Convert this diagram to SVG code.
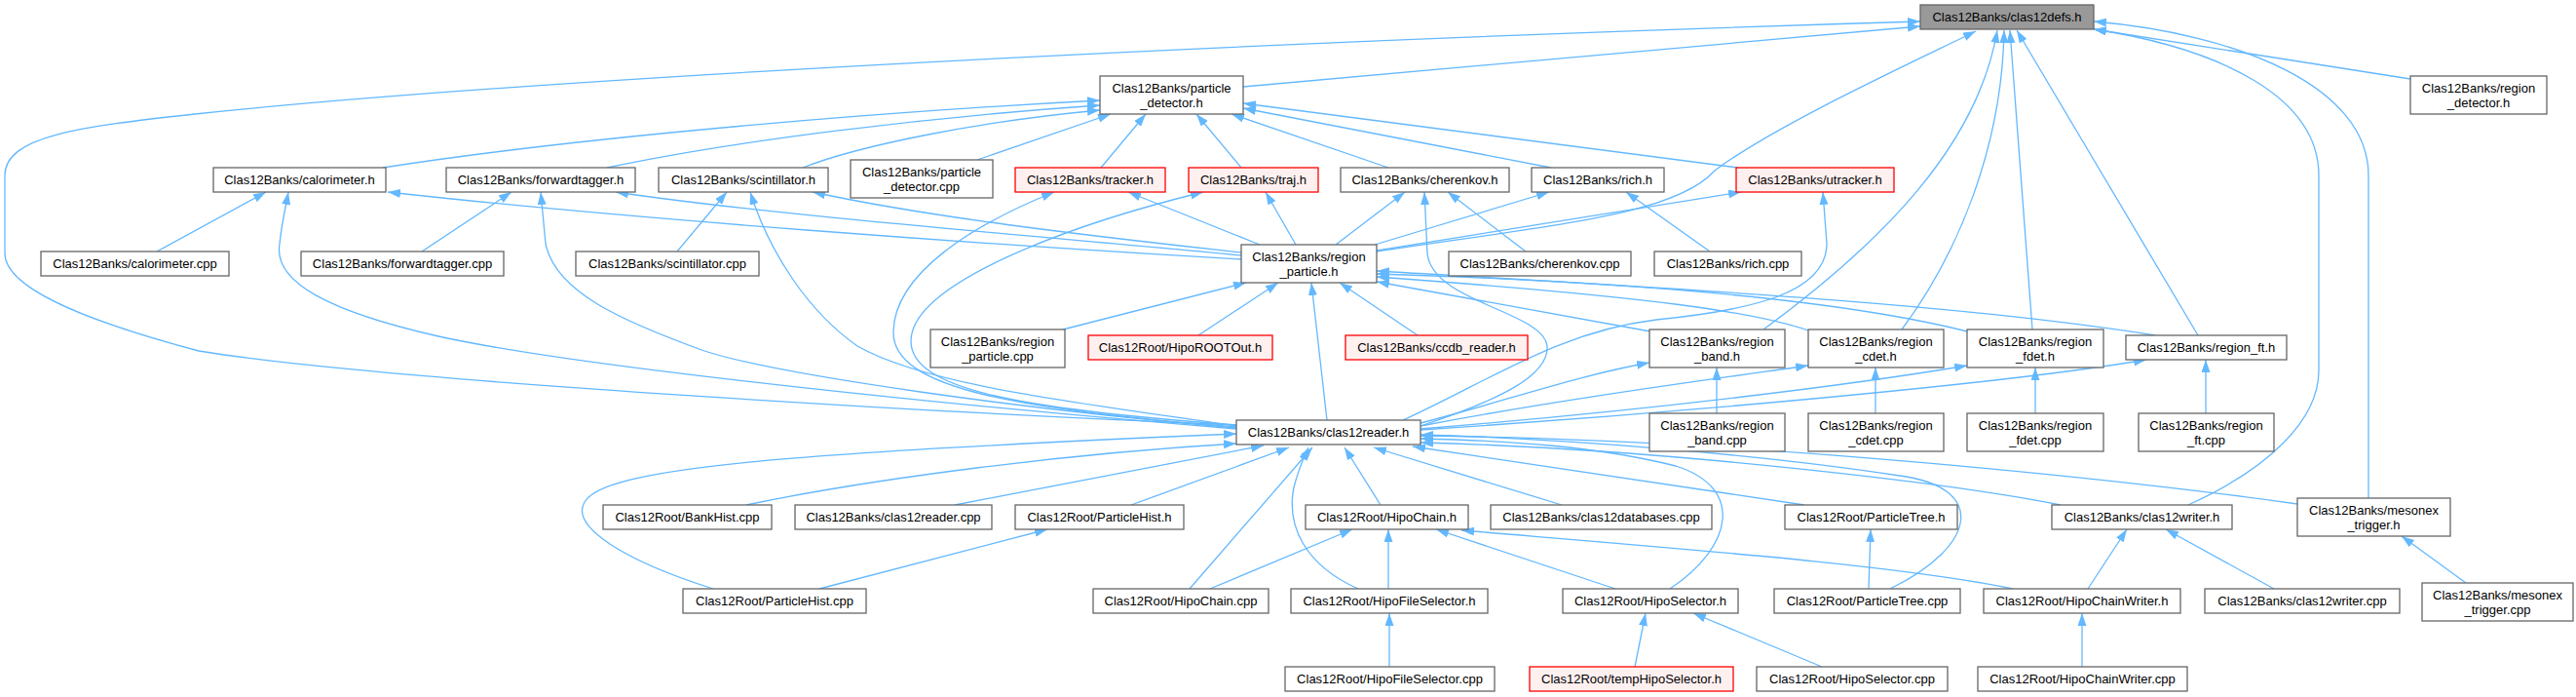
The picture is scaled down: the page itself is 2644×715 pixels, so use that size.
<svg xmlns="http://www.w3.org/2000/svg" width="2644" height="715" viewBox="0 0 2644 715">
<style>
rect{stroke-width:1.3}
.n rect{fill:#ffffff;stroke:#666666}
.r rect{fill:#fff0f0;stroke:#ff0000}
.root rect{fill:#999999;stroke:#666666}
text{font-family:"Liberation Sans",Arial,Helvetica,sans-serif;font-size:13px;text-anchor:middle;fill:#000000}
#edges path{fill:none;stroke:#63b8ff;stroke-width:1.3;marker-end:url(#a)}
</style>
<defs>
<marker id="a" markerUnits="userSpaceOnUse" markerWidth="14" markerHeight="10" refX="13" refY="4.5" orient="auto">
<path d="M0,0 L13,4.5 L0,9 z" fill="#63b8ff"/>
</marker>
</defs>
<rect width="2644" height="715" fill="#ffffff"/>
<g id="edges">
<path d="M1276,89 L1971,27"/>
<path d="M1269,436 C1000,425 400,392 204,360 C110,335 5,300 5,260 L5,180 C5,140 80,130 200,117 C500,85 1200,45 1971,22"/>
<path d="M1413,258 C1600,230 1720,220 1760,175 C1820,130 1950,70 2028,32"/>
<path d="M1810,338 C1930,250 2030,150 2050,31"/>
<path d="M1952,338 C2010,260 2055,150 2057,31"/>
<path d="M2086,338 L2063,31"/>
<path d="M2256,344 L2070,31"/>
<path d="M2246,518 C2330,480 2380,430 2380,380 L2380,180 C2380,100 2280,50 2149,30"/>
<path d="M2431,511 L2431,180 C2431,90 2300,35 2149,22"/>
<path d="M2474,81 L2149,30"/>
<path d="M393,172 C600,140 900,115 1129,103"/>
<path d="M623,172 C750,145 950,120 1129,108"/>
<path d="M824,172 C880,150 1000,125 1129,113"/>
<path d="M1003,164 L1140,117"/>
<path d="M1130,172 L1176,117"/>
<path d="M1274,172 L1228,117"/>
<path d="M1425,172 L1264,117"/>
<path d="M1592,172 L1276,111"/>
<path d="M1784,172 L1276,106"/>
<path d="M161,258 L273,197"/>
<path d="M1269,440 C1000,418 600,378 450,345 C340,320 280,290 287,250 C289,230 293,213 296,197"/>
<path d="M1274,266 C1000,250 650,225 398,197"/>
<path d="M433,258 L525,197"/>
<path d="M1269,439 C1050,420 800,385 723,360 C640,330 570,300 560,250 L555,197"/>
<path d="M1274,262 C1100,245 800,222 632,197"/>
<path d="M695,258 L746,197"/>
<path d="M1269,437 C1100,412 950,395 880,355 C830,320 790,260 770,197"/>
<path d="M1274,259 C1100,240 950,222 834,197"/>
<path d="M1293,251 L1158,197"/>
<path d="M1269,438 C1050,420 915,400 917,340 C918,280 1000,230 1082,197"/>
<path d="M1330,251 L1299,197"/>
<path d="M1269,436 C1050,420 935,400 935,350 C935,290 1100,230 1235,197"/>
<path d="M1371,251 L1442,197"/>
<path d="M1566,258 L1486,197"/>
<path d="M1458,437 C1540,410 1590,385 1588,355 C1585,320 1470,310 1465,260 L1462,197"/>
<path d="M1411,251 L1590,197"/>
<path d="M1755,258 L1669,197"/>
<path d="M1413,257 L1787,197"/>
<path d="M1440,431 C1530,390 1600,340 1700,328 C1800,318 1875,300 1875,250 L1871,197"/>
<path d="M1091,338 L1279,290"/>
<path d="M1230,344 L1312,290"/>
<path d="M1362,431 L1346,290"/>
<path d="M1455,344 L1375,290"/>
<path d="M1694,340 L1413,289"/>
<path d="M1856,339 C1800,320 1700,305 1413,284"/>
<path d="M2019,340 C1900,310 1700,290 1413,281"/>
<path d="M2212,344 C2000,310 1700,295 1413,278"/>
<path d="M1762,424 L1762,377"/>
<path d="M1458,434 C1550,410 1620,385 1693,372"/>
<path d="M1925,424 L1925,377"/>
<path d="M1458,437 C1600,410 1750,390 1856,375"/>
<path d="M2089,424 L2089,377"/>
<path d="M1458,440 C1700,420 1900,395 2019,375"/>
<path d="M2264,424 L2264,369"/>
<path d="M1458,441 C1700,425 2050,395 2203,369"/>
<path d="M766,518 C900,490 1100,465 1269,455"/>
<path d="M980,518 L1297,457"/>
<path d="M1161,518 L1323,459"/>
<path d="M732,604 C640,575 585,540 600,515 C620,480 800,465 1269,445"/>
<path d="M841,604 L1075,543"/>
<path d="M1417,518 L1380,459"/>
<path d="M1603,518 L1410,459"/>
<path d="M1221,604 L1347,459"/>
<path d="M1394,604 C1340,580 1320,540 1328,500 C1333,480 1338,470 1343,459"/>
<path d="M1714,604 C1780,560 1790,500 1720,478 C1640,458 1550,452 1458,450"/>
<path d="M1852,518 L1450,458"/>
<path d="M1940,604 C2030,560 2040,500 1950,488 C1800,465 1600,450 1458,446"/>
<path d="M2115,518 C2000,495 1700,460 1458,454"/>
<path d="M2358,517 C2200,495 1800,450 1458,447"/>
<path d="M2066,604 C1950,580 1750,565 1500,544"/>
<path d="M1242,604 L1388,543"/>
<path d="M1425,604 L1425,543"/>
<path d="M1658,604 L1474,543"/>
<path d="M1426,684 L1426,629"/>
<path d="M1678,684 L1689,629"/>
<path d="M1870,684 L1738,629"/>
<path d="M1918,604 L1920,543"/>
<path d="M2143,604 L2183,543"/>
<path d="M2334,604 L2223,543"/>
<path d="M2137,684 L2137,629"/>
<path d="M2531,598 L2465,550"/>
</g>
<g id="node_defs" class="root"><rect x="1971" y="5" width="178" height="25"/><text x="2060" y="22">Clas12Banks/clas12defs.h</text></g>
<g id="node_pd" class="n"><rect x="1129" y="78" width="147" height="39"/><text x="1202.5" y="94.5">Clas12Banks/particle</text><text x="1202.5" y="109.5">_detector.h</text></g>
<g id="node_regdet" class="n"><rect x="2474" y="78" width="140" height="39"/><text x="2544" y="94.5">Clas12Banks/region</text><text x="2544" y="109.5">_detector.h</text></g>
<g id="node_calo_h" class="n"><rect x="219" y="172" width="177" height="25"/><text x="307.5" y="189">Clas12Banks/calorimeter.h</text></g>
<g id="node_fwd_h" class="n"><rect x="458" y="172" width="194" height="25"/><text x="555" y="189">Clas12Banks/forwardtagger.h</text></g>
<g id="node_scint_h" class="n"><rect x="676" y="172" width="174" height="25"/><text x="763" y="189">Clas12Banks/scintillator.h</text></g>
<g id="node_pd_cpp" class="n"><rect x="873" y="164" width="146" height="39"/><text x="946" y="180.5">Clas12Banks/particle</text><text x="946" y="195.5">_detector.cpp</text></g>
<g id="node_tracker" class="r"><rect x="1042" y="172" width="154" height="25"/><text x="1119" y="189">Clas12Banks/tracker.h</text></g>
<g id="node_traj" class="r"><rect x="1220" y="172" width="133" height="25"/><text x="1286.5" y="189">Clas12Banks/traj.h</text></g>
<g id="node_cher_h" class="n"><rect x="1376" y="172" width="173" height="25"/><text x="1462.5" y="189">Clas12Banks/cherenkov.h</text></g>
<g id="node_rich_h" class="n"><rect x="1572" y="172" width="136" height="25"/><text x="1640" y="189">Clas12Banks/rich.h</text></g>
<g id="node_utracker" class="r"><rect x="1782" y="172" width="162" height="25"/><text x="1863" y="189">Clas12Banks/utracker.h</text></g>
<g id="node_calo_cpp" class="n"><rect x="42" y="258" width="193" height="25"/><text x="138.5" y="275">Clas12Banks/calorimeter.cpp</text></g>
<g id="node_fwd_cpp" class="n"><rect x="309" y="258" width="208" height="25"/><text x="413" y="275">Clas12Banks/forwardtagger.cpp</text></g>
<g id="node_scint_cpp" class="n"><rect x="591" y="258" width="188" height="25"/><text x="685" y="275">Clas12Banks/scintillator.cpp</text></g>
<g id="node_rp" class="n"><rect x="1274" y="251" width="139" height="39"/><text x="1343.5" y="267.5">Clas12Banks/region</text><text x="1343.5" y="282.5">_particle.h</text></g>
<g id="node_cher_cpp" class="n"><rect x="1487" y="258" width="187" height="25"/><text x="1580.5" y="275">Clas12Banks/cherenkov.cpp</text></g>
<g id="node_rich_cpp" class="n"><rect x="1698" y="258" width="151" height="25"/><text x="1773.5" y="275">Clas12Banks/rich.cpp</text></g>
<g id="node_rp_cpp" class="n"><rect x="955" y="338" width="138" height="39"/><text x="1024" y="354.5">Clas12Banks/region</text><text x="1024" y="369.5">_particle.cpp</text></g>
<g id="node_hiporoot" class="r"><rect x="1117" y="344" width="189" height="25"/><text x="1211.5" y="361">Clas12Root/HipoROOTOut.h</text></g>
<g id="node_ccdb" class="r"><rect x="1381" y="344" width="187" height="25"/><text x="1474.5" y="361">Clas12Banks/ccdb_reader.h</text></g>
<g id="node_band_h" class="n"><rect x="1693" y="338" width="139" height="39"/><text x="1762.5" y="354.5">Clas12Banks/region</text><text x="1762.5" y="369.5">_band.h</text></g>
<g id="node_cdet_h" class="n"><rect x="1856" y="338" width="139" height="39"/><text x="1925.5" y="354.5">Clas12Banks/region</text><text x="1925.5" y="369.5">_cdet.h</text></g>
<g id="node_fdet_h" class="n"><rect x="2019" y="338" width="140" height="39"/><text x="2089" y="354.5">Clas12Banks/region</text><text x="2089" y="369.5">_fdet.h</text></g>
<g id="node_ft_h" class="n"><rect x="2182" y="344" width="165" height="25"/><text x="2264.5" y="361">Clas12Banks/region_ft.h</text></g>
<g id="node_reader" class="n"><rect x="1269" y="431" width="189" height="25"/><text x="1363.5" y="448">Clas12Banks/clas12reader.h</text></g>
<g id="node_band_cpp" class="n"><rect x="1693" y="424" width="139" height="39"/><text x="1762.5" y="440.5">Clas12Banks/region</text><text x="1762.5" y="455.5">_band.cpp</text></g>
<g id="node_cdet_cpp" class="n"><rect x="1856" y="424" width="139" height="39"/><text x="1925.5" y="440.5">Clas12Banks/region</text><text x="1925.5" y="455.5">_cdet.cpp</text></g>
<g id="node_fdet_cpp" class="n"><rect x="2019" y="424" width="140" height="39"/><text x="2089" y="440.5">Clas12Banks/region</text><text x="2089" y="455.5">_fdet.cpp</text></g>
<g id="node_ft_cpp" class="n"><rect x="2195" y="424" width="139" height="39"/><text x="2264.5" y="440.5">Clas12Banks/region</text><text x="2264.5" y="455.5">_ft.cpp</text></g>
<g id="node_bankhist" class="n"><rect x="619" y="518" width="173" height="25"/><text x="705.5" y="535">Clas12Root/BankHist.cpp</text></g>
<g id="node_reader_cpp" class="n"><rect x="816" y="518" width="202" height="25"/><text x="917" y="535">Clas12Banks/clas12reader.cpp</text></g>
<g id="node_phist_h" class="n"><rect x="1042" y="518" width="173" height="25"/><text x="1128.5" y="535">Clas12Root/ParticleHist.h</text></g>
<g id="node_chain_h" class="n"><rect x="1340" y="518" width="167" height="25"/><text x="1423.5" y="535">Clas12Root/HipoChain.h</text></g>
<g id="node_db_cpp" class="n"><rect x="1530" y="518" width="227" height="25"/><text x="1643.5" y="535">Clas12Banks/clas12databases.cpp</text></g>
<g id="node_ptree_h" class="n"><rect x="1832" y="518" width="177" height="25"/><text x="1920.5" y="535">Clas12Root/ParticleTree.h</text></g>
<g id="node_writer_h" class="n"><rect x="2106" y="518" width="185" height="25"/><text x="2198.5" y="535">Clas12Banks/clas12writer.h</text></g>
<g id="node_mesonex_h" class="n"><rect x="2358" y="511" width="157" height="39"/><text x="2436.5" y="527.5">Clas12Banks/mesonex</text><text x="2436.5" y="542.5">_trigger.h</text></g>
<g id="node_phist_cpp" class="n"><rect x="701" y="604" width="188" height="25"/><text x="795" y="621">Clas12Root/ParticleHist.cpp</text></g>
<g id="node_chain_cpp" class="n"><rect x="1122" y="604" width="180" height="25"/><text x="1212" y="621">Clas12Root/HipoChain.cpp</text></g>
<g id="node_fsel_h" class="n"><rect x="1325" y="604" width="202" height="25"/><text x="1426" y="621">Clas12Root/HipoFileSelector.h</text></g>
<g id="node_sel_h" class="n"><rect x="1604" y="604" width="180" height="25"/><text x="1694" y="621">Clas12Root/HipoSelector.h</text></g>
<g id="node_ptree_cpp" class="n"><rect x="1821" y="604" width="191" height="25"/><text x="1916.5" y="621">Clas12Root/ParticleTree.cpp</text></g>
<g id="node_chainwriter_h" class="n"><rect x="2036" y="604" width="202" height="25"/><text x="2137" y="621">Clas12Root/HipoChainWriter.h</text></g>
<g id="node_writer_cpp" class="n"><rect x="2263" y="604" width="200" height="25"/><text x="2363" y="621">Clas12Banks/clas12writer.cpp</text></g>
<g id="node_mesonex_cpp" class="n"><rect x="2486" y="598" width="155" height="39"/><text x="2563.5" y="614.5">Clas12Banks/mesonex</text><text x="2563.5" y="629.5">_trigger.cpp</text></g>
<g id="node_fsel_cpp" class="n"><rect x="1319" y="684" width="215" height="25"/><text x="1426.5" y="701">Clas12Root/HipoFileSelector.cpp</text></g>
<g id="node_tempsel" class="r"><rect x="1570" y="684" width="209" height="25"/><text x="1674.5" y="701">Clas12Root/tempHipoSelector.h</text></g>
<g id="node_sel_cpp" class="n"><rect x="1803" y="684" width="196" height="25"/><text x="1901" y="701">Clas12Root/HipoSelector.cpp</text></g>
<g id="node_chainwriter_cpp" class="n"><rect x="2030" y="684" width="215" height="25"/><text x="2137.5" y="701">Clas12Root/HipoChainWriter.cpp</text></g>
</svg>
